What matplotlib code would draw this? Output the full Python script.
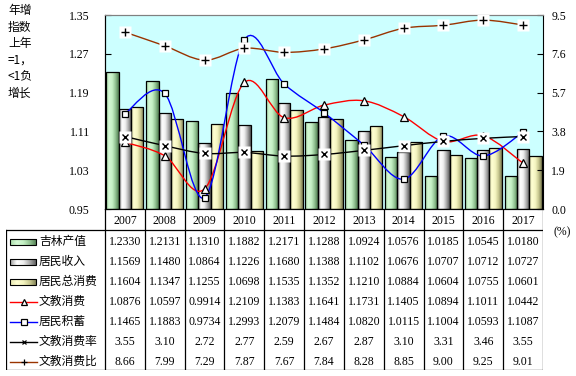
import numpy as np
import matplotlib
matplotlib.use("Agg")
import matplotlib.pyplot as plt
from matplotlib.path import Path
from matplotlib.patches import PathPatch, Rectangle
from matplotlib.colors import LinearSegmentedColormap

plt.rcParams['font.family'] = ['Noto Sans CJK SC', 'DejaVu Sans']

years = ['2007', '2008', '2009', '2010', '2011', '2012', '2013', '2014', '2015', '2016', '2017']
jilin_output = [1.2330, 1.2131, 1.1310, 1.1882, 1.2171, 1.1288, 1.0924, 1.0576, 1.0185, 1.0545, 1.0180]
income = [1.1569, 1.1480, 1.0864, 1.1226, 1.1680, 1.1388, 1.1102, 1.0676, 1.0707, 1.0712, 1.0727]
total_consume = [1.1604, 1.1347, 1.1255, 1.0698, 1.1535, 1.1352, 1.1210, 1.0884, 1.0604, 1.0755, 1.0601]
edu_consume = [1.0876, 1.0597, 0.9914, 1.2109, 1.1383, 1.1641, 1.1731, 1.1405, 1.0894, 1.1011, 1.0442]
savings = [1.1465, 1.1883, 0.9734, 1.2993, 1.2079, 1.1484, 1.0820, 1.0115, 1.1004, 1.0593, 1.1087]
edu_rate = [3.55, 3.10, 2.72, 2.77, 2.59, 2.67, 2.87, 3.10, 3.31, 3.46, 3.55]
edu_ratio = [8.66, 7.99, 7.29, 7.87, 7.67, 7.84, 8.28, 8.85, 9.00, 9.25, 9.01]

bar_names = ['吉林产值', '居民收入', '居民总消费']
line_names = ['文教消费', '居民积蓄', '文教消费率', '文教消费比']

left_ticks = [0.95, 1.03, 1.11, 1.19, 1.27, 1.35]
right_ticks = [0.0, 1.9, 3.8, 5.7, 7.6, 9.5]

W, H = 576, 376
PL, PR, PT, PB = 105, 543, 15, 209
TL, TB = 6, 370
num_font = 'Liberation Serif'

fig = plt.figure(figsize=(W / 100, H / 100), dpi=100)
ax = fig.add_axes([PL / W, 1 - PB / H, (PR - PL) / W, (PB - PT) / H])
ax.set_facecolor('#CCFFFF')
x = np.arange(len(years))

bar_cmaps = [
    LinearSegmentedColormap.from_list('g', ['#a8dca8', '#d4f8d4', '#c4f0c4', '#90c090', '#4e7a4e']),
    LinearSegmentedColormap.from_list('w', ['#9a9a9a', '#ffffff', '#eeeeee', '#a8a8a8', '#555555']),
    LinearSegmentedColormap.from_list('y', ['#e6e6b0', '#ffffd2', '#f4f4c0', '#c8c890', '#7a7a50']),
]
grad = np.linspace(0, 1, 64).reshape(1, -1)
bw = 0.31
for k, vals in enumerate([jilin_output, income, total_consume]):
    bars = ax.bar(x + (k - 1) * bw, np.array(vals) - 0.95, bw, bottom=0.95,
                  color='none', edgecolor='black', linewidth=0.9, zorder=3)
    for b in bars:
        bx, by = b.get_x(), b.get_y()
        im = ax.imshow(grad, extent=(bx, bx + b.get_width(), by, by + b.get_height()),
                       aspect='auto', cmap=bar_cmaps[k], zorder=2, interpolation='bilinear')
        im.set_clip_path(b)

ax.set_xlim(-0.5, len(years) - 0.5)
ax.set_ylim(0.95, 1.35)
ax.set_yticks(left_ticks)
ax.set_yticklabels(['%.2f' % t for t in left_ticks], fontfamily=num_font, fontsize=8.5)
ax.tick_params(axis='y', direction='in', length=4, pad=11, width=0.8)
ax.set_xticks([])
ax.spines['top'].set_color('#808080')
ax.spines['right'].set_visible(False)


def smooth_path(xs, ys):
    pts = np.column_stack([xs, ys]).astype(float)
    n = len(pts)
    verts = [pts[0]]
    codes = [Path.MOVETO]
    for i in range(n - 1):
        p0 = pts[max(i - 1, 0)]
        p1 = pts[i]
        p2 = pts[i + 1]
        p3 = pts[min(i + 2, n - 1)]
        verts += [p1 + (p2 - p0) / 6, p2 - (p3 - p1) / 6, p2]
        codes += [Path.CURVE4] * 3
    return Path(verts, codes)


ax2 = ax.twinx()
ax2.set_ylim(0, 9.5)
ax2.set_yticks(right_ticks)
ax2.set_yticklabels(['%.1f' % t for t in right_ticks], fontfamily=num_font, fontsize=8.5)
ax2.tick_params(axis='y', direction='in', length=4, pad=6, width=0.8)
ax2.spines['top'].set_color('#808080')
ax2.patch.set_visible(False)

line_specs = [
    (ax, edu_consume, 'red', '^', 6),
    (ax, savings, 'blue', 's', 5),
    (ax2, edu_rate, 'black', 'x', 5),
    (ax2, edu_ratio, '#993300', '+', 6),
]
for a, vals, col, mk, ms in line_specs:
    a.add_patch(PathPatch(smooth_path(x, vals), fill=False, edgecolor=col, lw=1.0, zorder=5))
    if mk in ('x', '+'):
        a.plot(x, vals, ls='none', marker='s', ms=8.5, mfc='white', mec='none', zorder=6)
        a.plot(x, vals, ls='none', marker=mk, ms=ms, mec='black', mew=1.0, zorder=7)
    else:
        a.plot(x, vals, ls='none', marker=mk, ms=ms, mfc='white', mec='black', mew=0.9, zorder=7)

# table under the plot
unit = (PR - PL) / len(years)


def px(p):
    return (p - PL) / unit - 0.5


tab = fig.add_axes([TL / W, 1 - TB / H, (PR - TL) / W, (TB - PB) / H])
tab.set_xlim(px(TL), len(years) - 0.5)
tab.set_ylim(TB, PB)
tab.axis('off')
row_top = 230
row_h = 20
lk = dict(color='black', lw=0.9)
tab.plot([px(TL), px(PR)], [row_top, row_top], **lk)
tab.plot([px(TL), px(PR)], [TB, TB], **lk)
tab.plot([px(TL), px(TL)], [row_top, TB], **lk)
for i in range(len(years) + 1):
    tab.plot([i - 0.5, i - 0.5], [PB, TB], **lk)
for i, yr in enumerate(years):
    tab.text(i, (PB + row_top) / 2 + 1, yr, ha='center', va='center',
             fontfamily=num_font, fontsize=8.5)

rows = [jilin_output, income, total_consume, edu_consume, savings, edu_rate, edu_ratio]
fmts = ['%.4f'] * 5 + ['%.2f'] * 2
for r, (vals, fmt) in enumerate(zip(rows, fmts)):
    yc = row_top + row_h * r + row_h / 2 + 2
    for i, v in enumerate(vals):
        tab.text(i, yc, fmt % v, ha='center', va='center', fontfamily=num_font, fontsize=8.5)
    if r < 3:
        rect = Rectangle((px(10), yc - 3), px(36) - px(10), 6, facecolor='none',
                         edgecolor='black', lw=0.8, zorder=3)
        tab.add_patch(rect)
        im = tab.imshow(grad, extent=(px(10), px(36), yc + 3, yc - 3), aspect='auto',
                        cmap=bar_cmaps[r], zorder=2, interpolation='bilinear')
        im.set_clip_path(rect)
        name = bar_names[r]
    else:
        _, _, col, mk, ms = line_specs[r - 3]
        tab.plot([px(10), px(37)], [yc, yc], color=col, lw=1.0)
        if mk in ('x', '+'):
            tab.plot([px(23.5)], [yc], marker=mk, ms=ms - 1.5, mec='black', mew=0.9, ls='none')
        else:
            tab.plot([px(23.5)], [yc], marker=mk, ms=ms - 1, mfc='white', mec='black', mew=0.9, ls='none')
        name = line_names[r - 3]
    tab.text(px(39), yc - 1, name, ha='left', va='center', fontsize=8.5)
tab.set_xlim(px(TL), len(years) - 0.5)
tab.set_ylim(TB, PB)

fig.text(8 / W, 1 - 4 / H, '年增\n指数\n上年\n=1，\n<1负\n增长', ha='left', va='top',
         fontsize=8.5, linespacing=1.35)
fig.text(553 / W, 1 - 232 / H, '(%)', ha='left', va='center', fontfamily=num_font, fontsize=8.5)

fig.savefig('out.png', dpi=100)
